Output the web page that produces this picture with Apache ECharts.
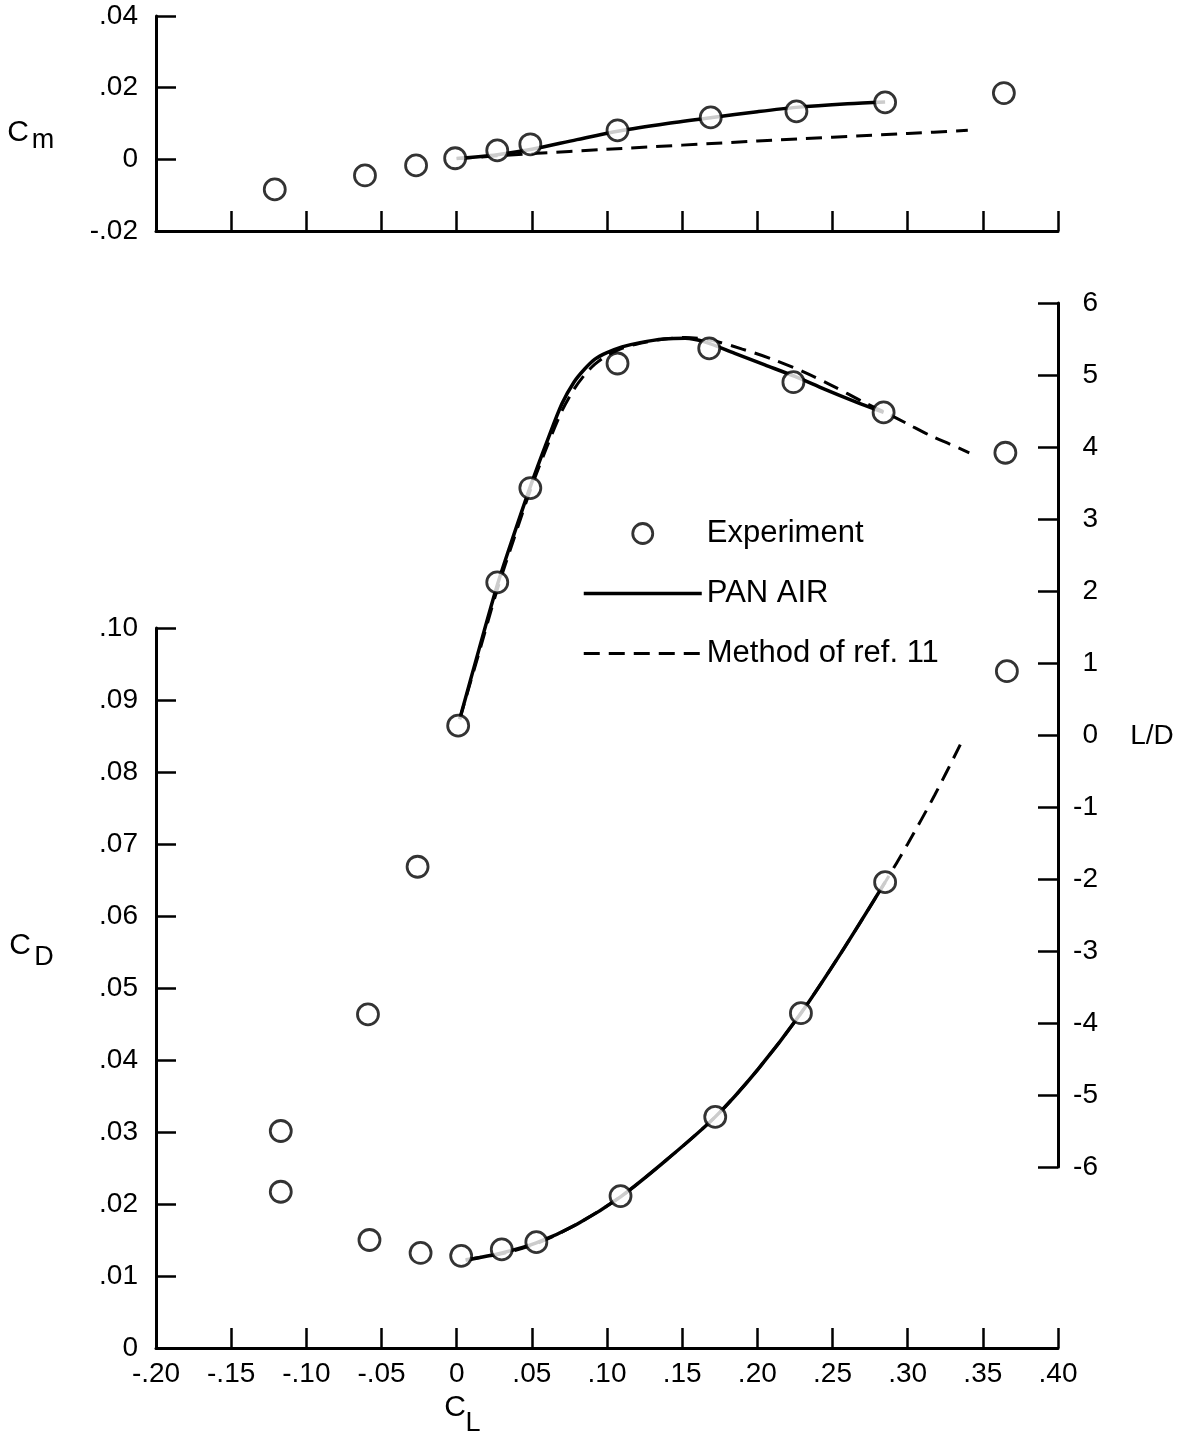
<!DOCTYPE html>
<html><head><meta charset="utf-8">
<script src="https://cdn.jsdelivr.net/npm/echarts@6/dist/echarts.min.js"></script>
<style>html,body{margin:0;padding:0;background:#fff}#c{width:1184px;height:1449px}</style>
</head><body><div id="c"></div>
<script>
// ---- tick labels ----
const xTickLabels = ['-.20','-.15','-.10','-.05','0','.05','.10','.15','.20','.25','.30','.35','.40'];
const cmTickLabels = ['-.02','0','.02','.04'];
const cdTickLabels = ['0','.01','.02','.03','.04','.05','.06','.07','.08','.09','.10'];
const ldTickLabels = ['-6','-5','-4','-3','-2','-1','0','1','2','3','4','5','6'];

// ---- pitching moment (Cm) ----
const clCmExp = [-0.121, -0.061, -0.027, -0.001, 0.027, 0.049, 0.107, 0.169, 0.226, 0.285, 0.364];
const cmExp   = [-0.0084, -0.0045, -0.0017, 0.0003, 0.0025, 0.0042, 0.0081, 0.0117, 0.0134, 0.0159, 0.0185];
const clCmPan = [0.000, 0.027, 0.050, 0.080, 0.108, 0.140, 0.170, 0.200, 0.226, 0.260, 0.285];
const cmPan   = [0.0002, 0.0013, 0.0028, 0.0055, 0.0079, 0.0100, 0.0117, 0.0133, 0.0145, 0.0155, 0.0160];
const clCmRef = [0.000, 0.050, 0.100, 0.200, 0.300, 0.340];
const cmRef   = [0.0002, 0.0016, 0.0028, 0.0051, 0.0072, 0.0081];

// ---- lift/drag ratio (L/D) ----
const clLDExp = [-0.117, -0.059, -0.026, 0.001, 0.027, 0.049, 0.107, 0.168, 0.224, 0.284, 0.365];
const ldExp   = [-5.50, -3.88, -1.83, 0.13, 2.12, 3.43, 5.16, 5.37, 4.90, 4.48, 3.92];
const clLDPan = [0.002,0.015,0.027,0.038,0.049,0.060,0.070,0.078,0.085,0.092,0.100,0.110,0.122,0.138,0.152,0.165,0.185,0.205,0.225,0.245,0.265,0.284];
const ldPan   = [0.22,1.20,2.08,2.78,3.45,4.07,4.60,4.90,5.08,5.22,5.31,5.39,5.45,5.50,5.51,5.46,5.30,5.14,4.98,4.80,4.63,4.48];
const clLDRef = [0.002,0.015,0.027,0.038,0.049,0.060,0.070,0.078,0.085,0.092,0.100,0.110,0.122,0.138,0.152,0.170,0.190,0.210,0.230,0.250,0.270,0.285,0.300,0.315,0.328,0.341];
const ldRef   = [0.22,1.15,2.02,2.72,3.40,4.00,4.50,4.80,5.00,5.15,5.27,5.37,5.44,5.50,5.52,5.48,5.36,5.22,5.05,4.85,4.63,4.48,4.32,4.16,4.04,3.92];

// ---- drag (CD) ----
const clCDExp = [-0.117, -0.058, -0.024, 0.003, 0.030, 0.053, 0.109, 0.172, 0.229, 0.285, 0.366];
const cdExp   = [0.0217, 0.0150, 0.0132, 0.0128, 0.0137, 0.0147, 0.0211, 0.0321, 0.0465, 0.0647, 0.0940];
const clCDPan = [0.006, 0.030, 0.053, 0.080, 0.109, 0.140, 0.172, 0.200, 0.229, 0.257, 0.285];
const cdPan   = [0.0122, 0.0132, 0.0146, 0.0172, 0.0210, 0.0262, 0.0321, 0.0386, 0.0465, 0.0553, 0.0647];
const clCDRef = [0.006, 0.030, 0.053, 0.080, 0.109, 0.140, 0.172, 0.200, 0.229, 0.257, 0.285, 0.300, 0.318, 0.335];
const cdRef   = [0.0123, 0.0131, 0.0145, 0.0172, 0.0210, 0.0262, 0.0321, 0.0386, 0.0465, 0.0553, 0.0647, 0.0700, 0.0768, 0.0838];

const FONT = "'Liberation Sans', Arial, 'DejaVu Sans', sans-serif";
const zip = (a, b) => a.map((v, i) => [v, b[i]]);
const byTick = (labels, min, step) => v => labels[Math.round((v - min) / step)] ?? '';

const axisLine = { show: true, onZero: false, lineStyle: { color: '#000', width: 3 } };
const axisTick = { show: true, inside: true, length: 20, lineStyle: { color: '#000', width: 2.5 } };
const lbl = { color: '#000', fontSize: 28, fontFamily: FONT };

function xAxis(gi, showLabels) {
  return {
    type: 'value', gridIndex: gi, min: -0.2, max: 0.4, interval: 0.05, position: 'bottom',
    axisLine, axisTick, splitLine: { show: false },
    axisLabel: Object.assign({ show: showLabels, margin: 12, formatter: byTick(xTickLabels, -0.2, 0.05) }, lbl)
  };
}

const exp = (xi, data) => ({
  name: 'Experiment', type: 'scatter', xAxisIndex: xi, yAxisIndex: xi, data,
  symbol: 'circle', symbolSize: 21, z: 5,
  itemStyle: { color: '#fff', borderColor: '#000', borderWidth: 2.8 }
});
const pan = (xi, data) => ({
  name: 'PAN AIR', type: 'line', xAxisIndex: xi, yAxisIndex: xi, data,
  smooth: 0.3, symbol: 'none', z: 3,
  itemStyle: { color: '#000' },
  lineStyle: { color: '#000', width: 3.5 }
});
const ref = (xi, data) => ({
  name: 'Method of ref. 11', type: 'line', xAxisIndex: xi, yAxisIndex: xi, data,
  smooth: 0.3, symbol: 'none', z: 2,
  itemStyle: { color: '#000' },
  lineStyle: { color: '#000', width: 3, type: [16, 9] }
});

const chart = echarts.init(document.getElementById('c'), null, { renderer: 'canvas' });
chart.setOption({
  backgroundColor: '#fff',
  animation: false,
  grid: [
    { left: 156, right: 126, top: 16, height: 215, containLabel: false, outerBoundsMode: 'none' },
    { left: 156, right: 126, top: 303, height: 864, containLabel: false, outerBoundsMode: 'none' },
    { left: 156, right: 126, top: 628, height: 720, containLabel: false, outerBoundsMode: 'none' }
  ],
  xAxis: [
    xAxis(0, false),
    Object.assign(xAxis(1, false), { show: false }),
    xAxis(2, true)
  ],
  yAxis: [
    { type: 'value', gridIndex: 0, min: -0.02, max: 0.04, interval: 0.02, position: 'left',
      axisLine, axisTick, splitLine: { show: false },
      axisLabel: Object.assign({ margin: 18, formatter: byTick(cmTickLabels, -0.02, 0.02) }, lbl) },
    { type: 'value', gridIndex: 1, min: -6, max: 6, interval: 1, position: 'right',
      axisLine, axisTick, splitLine: { show: false },
      axisLabel: Object.assign({ margin: 40, align: 'right', formatter: byTick(ldTickLabels, -6, 1) }, lbl) },
    { type: 'value', gridIndex: 2, min: 0, max: 0.1, interval: 0.01, position: 'left',
      axisLine, axisTick, splitLine: { show: false },
      axisLabel: Object.assign({ margin: 18, formatter: byTick(cdTickLabels, 0, 0.01) }, lbl) }
  ],
  legend: {
    orient: 'vertical', left: 577, top: 513, itemWidth: 118, itemHeight: 20, itemGap: 29,
    selectedMode: false,
    data: [
      { name: 'Experiment' },
      { name: 'PAN AIR', itemStyle: { opacity: 0 } },
      { name: 'Method of ref. 11', itemStyle: { opacity: 0 } }
    ],
    textStyle: { color: '#000', fontSize: 31, fontFamily: FONT, lineHeight: 30 },
    itemStyle: { borderWidth: 'inherit' },
    lineStyle: { width: 'inherit' }
  },
  series: [
    exp(0, zip(clCmExp, cmExp)),
    pan(0, zip(clCmPan, cmPan)),
    ref(0, zip(clCmRef, cmRef)),
    exp(1, zip(clLDExp, ldExp)),
    pan(1, zip(clLDPan, ldPan)),
    ref(1, zip(clLDRef, ldRef)),
    exp(2, zip(clCDExp, cdExp)),
    pan(2, zip(clCDPan, cdPan)),
    ref(2, zip(clCDRef, cdRef))
  ],
  graphic: [
    { type: 'text', style: { text: 'C', x: 18, y: 133, font: '30px ' + FONT, fill: '#000', textAlign: 'center', textVerticalAlign: 'middle' } },
    { type: 'text', style: { text: 'm', x: 43, y: 141, font: '27px ' + FONT, fill: '#000', textAlign: 'center', textVerticalAlign: 'middle' } },
    { type: 'text', style: { text: 'C', x: 20, y: 946, font: '30px ' + FONT, fill: '#000', textAlign: 'center', textVerticalAlign: 'middle' } },
    { type: 'text', style: { text: 'D', x: 44, y: 958, font: '27px ' + FONT, fill: '#000', textAlign: 'center', textVerticalAlign: 'middle' } },
    { type: 'text', style: { text: 'C', x: 455, y: 1408, font: '30px ' + FONT, fill: '#000', textAlign: 'center', textVerticalAlign: 'middle' } },
    { type: 'text', style: { text: 'L', x: 473, y: 1424, font: '27px ' + FONT, fill: '#000', textAlign: 'center', textVerticalAlign: 'middle' } },
    { type: 'text', style: { text: 'L/D', x: 1152, y: 736, font: '28px ' + FONT, fill: '#000', textAlign: 'center', textVerticalAlign: 'middle' } }
  ]
});
</script>
</body></html>
